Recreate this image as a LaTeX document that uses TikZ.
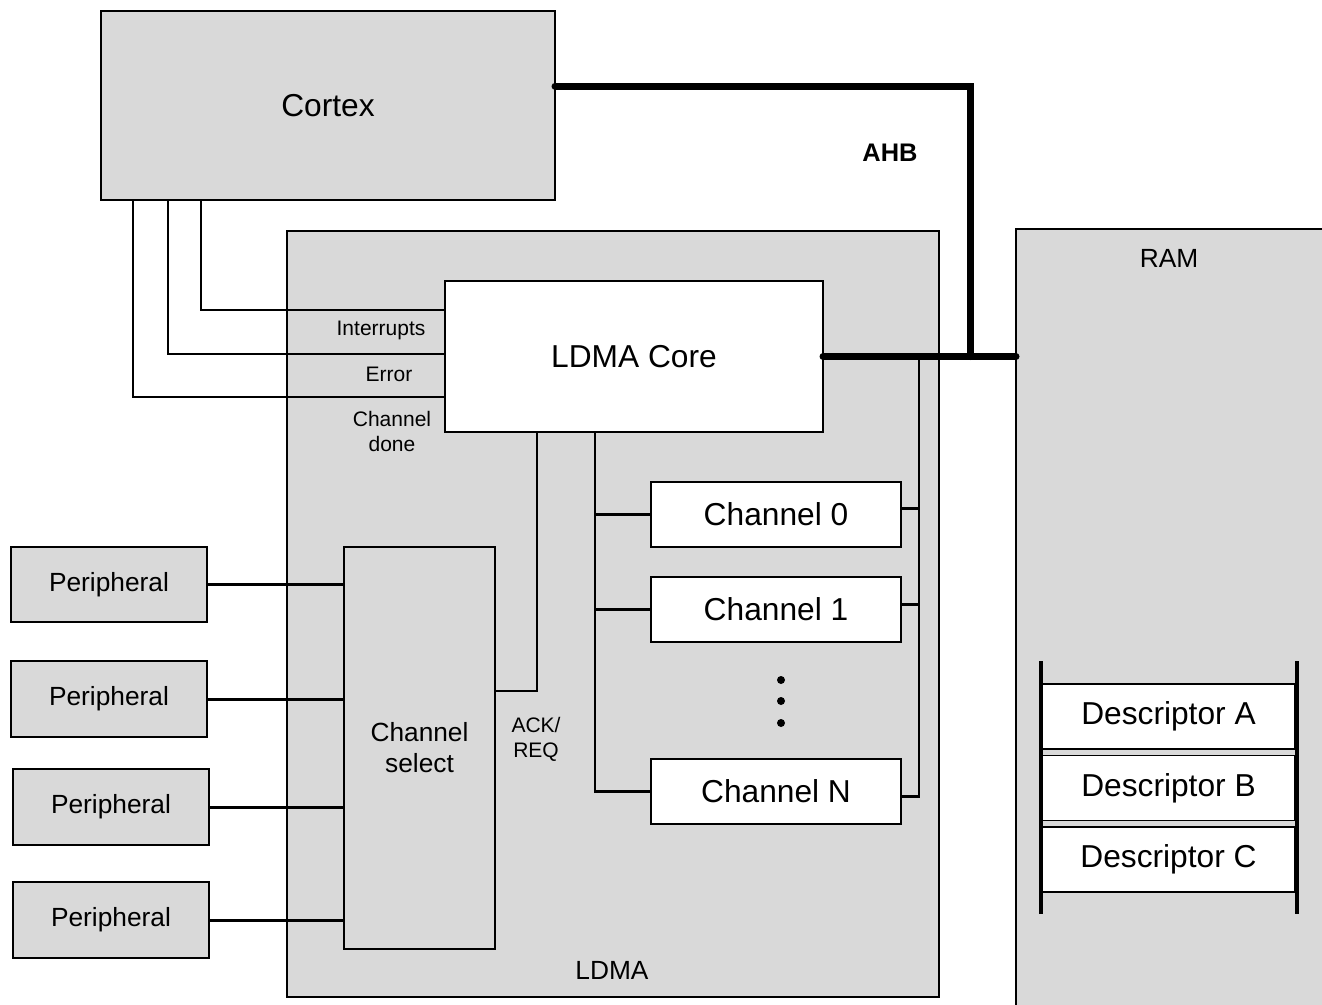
\documentclass[tikz,border=0pt]{standalone}
\usepackage{fontspec}
\setmainfont{Liberation Sans}
\definecolor{boxgray}{RGB}{217,217,217}
\tikzset{
  block/.style={draw, line width=1.5pt, fill=boxgray, inner sep=0pt, outer sep=0pt},
  whitebox/.style={block, fill=white},
  bigtext/.style={font=\fontsize{31.7}{36}\selectfont},
  midtext/.style={font=\fontsize{26.3}{31}\selectfont, align=center},
  smalltext/.style={font=\fontsize{21}{25}\selectfont, align=center},
  wire/.style={line width=2.2pt},
  perwire/.style={line width=3pt},
  bus/.style={line width=7pt, line cap=round},
}
\begin{document}
\begin{tikzpicture}[x=1pt,y=-1pt]
  \useasboundingbox (0,0) rectangle (1322,1004);

  \node [block, minimum width=652, minimum height=766] (ldma) at (613,614) {};
  \node [midtext] (ldmalabel) at (612,970) {LDMA};

  \node [block, minimum width=330, minimum height=790] (ram) at (1181,624) {};
  \node [midtext] (ramlabel) at (1169,258) {RAM};

  \node [block, minimum width=454, minimum height=189, bigtext] (cortex) at (328,105.5) {Cortex};

  \draw [wire] (201,0 |- cortex.south) |- (201,310 -| 445,0);
  \draw [wire] (168,0 |- cortex.south) |- (168,354 -| 445,0);
  \draw [wire] (133,0 |- cortex.south) |- (133,397 -| 445,0);
  \node [smalltext] (intlabel) at (381,330) {Interrupts};
  \node [smalltext] (errlabel) at (389,374) {Error};
  \node [smalltext] (donelabel) at (392,431) {Channel\\done};

  \node [whitebox, minimum width=378, minimum height=151, bigtext] (core) at (634,356.5) {LDMA Core};

  \draw [bus] (cortex.east |- 0,86) -| (970,0 |- core.east);
  \draw [bus] (core.east) -- (core.east -| ram.west);
  \node [font=\fontsize{25.4}{30}\selectfont\bfseries] (ahb) at (890,153) {AHB};

  \node [block, minimum width=151, minimum height=402, midtext] (chsel) at (419.5,748) {Channel\\select};
  \draw [wire] (chsel.east |- 0,691) -| (537,0 |- core.south);
  \node [smalltext] (acklabel) at (536,739) {ACK/\\REQ};

  \node [whitebox, minimum width=250, minimum height=65, bigtext] (ch0) at (776,514.5) {Channel 0};
  \node [whitebox, minimum width=250, minimum height=65, bigtext] (ch1) at (776,609.5) {Channel 1};
  \node [whitebox, minimum width=250, minimum height=65, bigtext] (chN) at (776,791.5) {Channel N};
  \fill (781,680) circle (4pt);
  \fill (781,701) circle (4pt);
  \fill (781,723) circle (4pt);

  \draw [wire] (595,0 |- core.south) |- (chN.west);
  \draw [wire] (ch0.west) -- (ch0.west -| 595,0);
  \draw [wire] (ch1.west) -- (ch1.west -| 595,0);
  \draw [wire] (919,0 |- core.east) |- ([yshift=-5]chN.east);
  \draw [wire] ([yshift=6]ch0.east) -- ([yshift=6]ch0.east -| 919,0);
  \draw [wire] ([yshift=5]ch1.east) -- ([yshift=5]ch1.east -| 919,0);

  \node [block, minimum width=196, minimum height=75, midtext] (per1) at (109,584.5) {Peripheral};
  \node [block, minimum width=196, minimum height=76, midtext] (per2) at (109,699) {Peripheral};
  \node [block, minimum width=196, minimum height=76, midtext] (per3) at (111,807) {Peripheral};
  \node [block, minimum width=196, minimum height=76, midtext] (per4) at (111,920) {Peripheral};
  \draw [perwire] (per1.east) -- (per1.east -| chsel.west);
  \draw [perwire] (per2.east) -- (per2.east -| chsel.west);
  \draw [perwire] (per3.east) -- (per3.east -| chsel.west);
  \draw [perwire] (per4.east) -- (per4.east -| chsel.west);

  \node [whitebox, minimum width=253, minimum height=65, bigtext] (descA) at (1168.5,716.5) {Descriptor A};
  \node [whitebox, minimum width=253, minimum height=65, bigtext] (descB) at (1168.5,788) {Descriptor B};
  \node [whitebox, minimum width=253, minimum height=65, bigtext] (descC) at (1168.5,859.5) {Descriptor C};
  \draw [line width=4pt] (1041,661) -- (1041,914);
  \draw [line width=4pt] (1297,661) -- (1297,914);
\end{tikzpicture}
\end{document}
